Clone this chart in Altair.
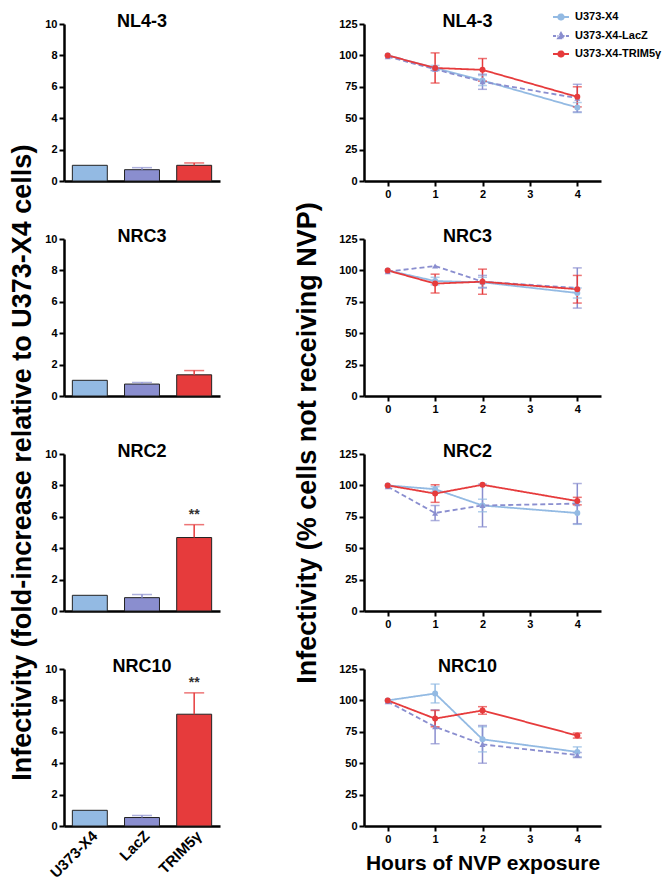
import altair as alt
import pandas as pd

FONT = "Liberation Sans"

viruses = ["NL4-3", "NRC3", "NRC2", "NRC10"]
bar_cells = ["U373-X4", "LacZ", "TRIM5γ"]
series = ["U373-X4", "U373-X4-LacZ", "U373-X4-TRIM5γ"]
hours = [0, 1, 2, 4]
bar_ticks = [0, 2, 4, 6, 8, 10]
pct_ticks = [0, 25, 50, 75, 100, 125]
hour_ticks = [0, 1, 2, 3, 4]

# Left: fold-increase relative to U373-X4 cells (mean, upper error)
bar_mean = {
    "NL4-3": [1.0, 0.72, 1.0],
    "NRC3": [1.0, 0.76, 1.35],
    "NRC2": [1.0, 0.85, 4.68],
    "NRC10": [1.0, 0.54, 7.12],
}
bar_err = {
    "NL4-3": [0.0, 0.13, 0.15],
    "NRC3": [0.0, 0.10, 0.27],
    "NRC2": [0.0, 0.20, 0.82],
    "NRC10": [0.0, 0.13, 1.36],
}
bar_sig = {
    "NL4-3": ["", "", ""],
    "NRC3": ["", "", ""],
    "NRC2": ["", "", "**"],
    "NRC10": ["", "", "**"],
}

# Right: % cells not receiving NVP, by hours of NVP exposure
line_mean = {
    "NL4-3": {
        "U373-X4": [100, 90, 80, 58.5],
        "U373-X4-LacZ": [99, 89, 79, 66],
        "U373-X4-TRIM5γ": [100, 90, 88.5, 67],
    },
    "NRC3": {
        "U373-X4": [100, 91.5, 90.5, 82],
        "U373-X4-LacZ": [99, 103.5, 91, 86],
        "U373-X4-TRIM5γ": [100, 89.5, 91, 85],
    },
    "NRC2": {
        "U373-X4": [100, 97, 84, 78],
        "U373-X4-LacZ": [99, 78, 84, 85.5],
        "U373-X4-TRIM5γ": [100, 93.5, 100.5, 87.5],
    },
    "NRC10": {
        "U373-X4": [100, 105.5, 69, 59],
        "U373-X4-LacZ": [99, 79, 65, 56.5],
        "U373-X4-TRIM5γ": [100, 85.5, 92, 72],
    },
}
line_err = {
    "NL4-3": {
        "U373-X4": [0, 2, 4, 4],
        "U373-X4-LacZ": [0, 1, 6, 11],
        "U373-X4-TRIM5γ": [0, 12, 9, 8],
    },
    "NRC3": {
        "U373-X4": [0, 3, 4, 4],
        "U373-X4-LacZ": [0, 0, 5, 16],
        "U373-X4-TRIM5γ": [0, 7.5, 10, 11],
    },
    "NRC2": {
        "U373-X4": [0, 2, 5, 9],
        "U373-X4-LacZ": [0, 6, 17, 16],
        "U373-X4-TRIM5γ": [0, 7, 0, 3],
    },
    "NRC10": {
        "U373-X4": [0, 7.5, 10, 4],
        "U373-X4-LacZ": [0, 13.5, 15, 2],
        "U373-X4-TRIM5γ": [0, 6.5, 3, 2],
    },
}

colors = ["#93bae3", "#8a8ecf", "#e63b3c"]
markers = ["circle", "triangle-up", "circle"]
dashes = [[1, 0], [5, 3], [1, 0]]

# legend glyphs: short line with the marker in its middle
CIRCLE_GLYPH = "M-1,0L1,0M-0.34,0A0.34,0.34,0,1,1,0.34,0A0.34,0.34,0,1,1,-0.34,0Z"
TRI_GLYPH = ("M-1,0L-0.62,0M-0.44,0L-0.32,0M0.32,0L0.44,0M0.62,0L1,0"
             "M0,-0.4L0.38,0.28L-0.38,0.28Z")
glyphs = [CIRCLE_GLYPH, TRI_GLYPH, CIRCLE_GLYPH]

color_scale = alt.Scale(domain=series, range=colors)
LEG = alt.Legend(
    title=None, orient="none", legendX=488, legendY=-16, padding=0,
    labelFont=FONT, labelFontWeight="bold", labelFontSize=11, labelColor="black",
    symbolSize=256, symbolStrokeWidth=1.8, symbolOpacity=1, rowPadding=3,
    labelOffset=5,
)

BW, BH = 156, 157
LW = 237
SP = 29


def yaxis(vals):
    return alt.Axis(title=None, values=vals, labelOverlap=False, labelBound=False,
                    labelFlush=False)


def bar_chart(i, v):
    df = pd.DataFrame({
        "cell": bar_cells, "series": series,
        "mean": bar_mean[v], "err": bar_err[v], "sig": bar_sig[v],
    })
    df["top"] = df["mean"] + df["err"]
    last = i == len(viruses) - 1
    if last:
        xaxis = alt.Axis(title=None, labelAngle=-45, ticks=False, labelFontSize=15,
                         labelPadding=2, labelOverlap=False)
    else:
        xaxis = alt.Axis(title=None, labelAngle=0, labelColor="transparent",
                         tickColor="transparent", labelFontSize=11, labelOverlap=False)
    x = alt.X("cell:N", sort=bar_cells,
              scale=alt.Scale(paddingInner=0.33, paddingOuter=0.16), axis=xaxis)
    ysc = alt.Scale(domain=[0, 10], nice=False)
    y = alt.Y("mean:Q", scale=ysc, axis=yaxis(bar_ticks))
    col = alt.Color("series:N", scale=color_scale, legend=LEG)
    base = alt.Chart(df)
    bars = base.mark_bar(stroke="#222", strokeWidth=1).encode(x=x, y=y, color=col)
    eb = base.transform_filter("datum.err > 0")
    rule = eb.mark_rule(strokeWidth=1.5).encode(
        x=x, y=alt.Y("mean:Q", scale=ysc, axis=yaxis(bar_ticks)), y2="top:Q", color=col)
    cap = eb.mark_tick(orient="horizontal", size=20, thickness=1.5).encode(
        x=x, y=alt.Y("top:Q", scale=ysc, axis=yaxis(bar_ticks)), color=col)
    sig = base.transform_filter("datum.sig != ''").mark_text(
        dy=-10, fontSize=14, fontWeight="bold", font=FONT, color="#333"
    ).encode(x=x, y=alt.Y("top:Q", scale=ysc, axis=yaxis(bar_ticks)), text="sig:N")
    return alt.layer(bars, rule, cap, sig).properties(
        width=BW, height=BH,
        title=alt.TitleParams(v, fontSize=18, font=FONT, fontWeight="bold",
                              offset=-13, color="black"),
    )


def line_chart(i, v):
    rows = []
    for s in series:
        for h, m, e in zip(hours, line_mean[v][s], line_err[v][s]):
            rows.append({"series": s, "hour": h, "mean": m, "err": e,
                         "lo": m - e, "hi": m + e})
    df = pd.DataFrame(rows)
    last = i == len(viruses) - 1
    x = alt.X("hour:Q", scale=alt.Scale(domain=[-0.5, 4.5], nice=False),
              axis=alt.Axis(values=hour_ticks, labelOverlap=False,
                            title="Hours of NVP exposure" if last else None,
                            titlePadding=8, titleFontSize=21))
    ysc = alt.Scale(domain=[0, 125], nice=False)
    y = alt.Y("mean:Q", scale=ysc, axis=yaxis(pct_ticks))
    col = alt.Color("series:N", scale=color_scale, legend=LEG)
    dsh = alt.StrokeDash("series:N", scale=alt.Scale(domain=series, range=dashes),
                         legend=None)
    base = alt.Chart(df)
    layers = []
    if i == 0:
        # legend carrier: invisible on the plot, gives the legend its glyphs
        layers.append(
            base.mark_point(filled=True, opacity=0, strokeWidth=1.8).encode(
                x=x, y=y, color=col,
                shape=alt.Shape("series:N",
                                scale=alt.Scale(domain=series, range=glyphs),
                                legend=LEG),
            )
        )
    eb = base.transform_filter("datum.err > 0")
    rule = eb.mark_rule(strokeWidth=1.5).encode(
        x=x, y=alt.Y("lo:Q", scale=ysc, axis=yaxis(pct_ticks)), y2="hi:Q", color=col)
    cap_lo = eb.mark_tick(orient="horizontal", size=9, thickness=1.5).encode(
        x=x, y=alt.Y("lo:Q", scale=ysc, axis=yaxis(pct_ticks)), color=col)
    cap_hi = eb.mark_tick(orient="horizontal", size=9, thickness=1.5).encode(
        x=x, y=alt.Y("hi:Q", scale=ysc, axis=yaxis(pct_ticks)), color=col)
    line = base.mark_line(strokeWidth=1.8).encode(x=x, y=y, color=col, strokeDash=dsh)
    layers += [line, rule, cap_lo, cap_hi]
    for s, mk in zip(series, markers):
        layers.append(
            base.transform_filter(alt.datum.series == s)
            .mark_point(filled=True, size=36, opacity=1, shape=mk)
            .encode(x=x, y=y, color=col)
        )
    return alt.layer(*layers).properties(
        width=LW, height=BH,
        title=alt.TitleParams(v, fontSize=18, font=FONT, fontWeight="bold",
                              offset=-13, dx=-15, color="black"),
    )


left = alt.vconcat(*[bar_chart(i, v) for i, v in enumerate(viruses)], spacing=SP).properties(
    title=alt.TitleParams(
        "Infectivity (fold-increase relative to U373-X4 cells)", orient="left",
        anchor="middle", fontSize=27, font=FONT, fontWeight="bold", offset=8,
        dx=-16, color="black"),
)
right = alt.vconcat(*[line_chart(i, v) for i, v in enumerate(viruses)], spacing=SP).properties(
    title=alt.TitleParams(
        "Infectivity (% cells not receiving NVP)", orient="left",
        anchor="middle", fontSize=27, font=FONT, fontWeight="bold", offset=17,
        color="black"),
)

chart = alt.hconcat(left, right, spacing=73).properties(
    padding={"left": 0, "top": 0, "right": 0, "bottom": 0}
).configure_axis(
    domainColor="black", domainWidth=2.5, tickColor="black", tickWidth=2,
    tickSize=5, labelFont=FONT, labelFontWeight="bold", labelFontSize=11,
    labelColor="black", labelPadding=2, labelOverlap=False, grid=False,
    titleFont=FONT, titleFontWeight="bold", titleFontSize=20, titleColor="black",
).configure_view(stroke=None)

chart.save("out.html", embed_options={"renderer": "svg", "actions": False})
